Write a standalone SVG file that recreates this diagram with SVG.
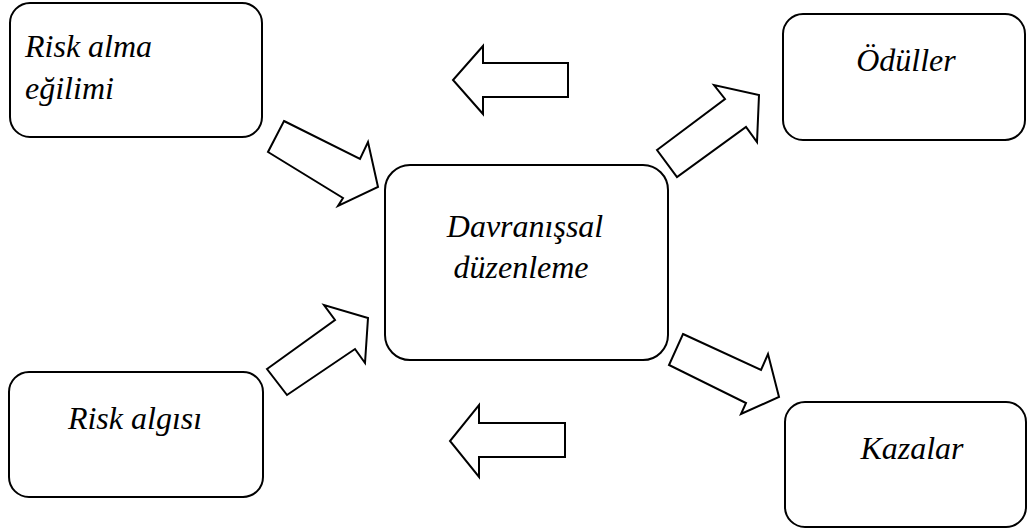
<svg xmlns="http://www.w3.org/2000/svg" width="1027" height="529" viewBox="0 0 1027 529">
<style>
.box{fill:#fff;stroke:#000;stroke-width:2}
.arr{fill:#fff;stroke:#000;stroke-width:2;stroke-linejoin:miter}
.t{font-family:"Liberation Serif","Times New Roman","DejaVu Serif",serif;font-style:italic;font-size:32px;fill:#000}
.m{text-anchor:middle}
</style>
<rect width="1027" height="529" fill="#fff"/>
<g id="connectors">
<polygon class="arr" points="568,63 483,63 483,46 453,80 483,114 483,97 568,97"/>
<polygon class="arr" points="565,423 479,423 479,405 450,441 479,477 479,457 565,457"/>
<polygon class="arr" points="284,121 360,159 368,142 378,187 338,206 343,198 268,152"/>
<polygon class="arr" points="657,150 725,99 714,85 759,95 757,142 746,127 677,177"/>
<polygon class="arr" points="267,369 335,320 324,305 368,318 365,363 355,349 287,395"/>
<polygon class="arr" points="683,334 761,370 768,354 779,397 741,414 746,403 669,365"/>
</g>
<g id="node-risk-alma">
<rect class="box" x="10" y="3" width="252" height="134" rx="20"/>
<text class="t" x="25" y="57">Risk alma</text>
<text class="t" x="25" y="99">eğilimi</text>
</g>
<g id="node-davranissal">
<rect class="box" x="385" y="165" width="283" height="195" rx="25"/>
<text class="t m" x="525" y="237">Davranışsal</text>
<text class="t m" x="521" y="278">düzenleme</text>
</g>
<g id="node-oduller">
<rect class="box" x="783" y="14" width="242" height="126" rx="20"/>
<text class="t m" x="906" y="71">Ödüller</text>
</g>
<g id="node-risk-algisi">
<rect class="box" x="9" y="372" width="254" height="125" rx="20"/>
<text class="t m" x="135" y="429">Risk algısı</text>
</g>
<g id="node-kazalar">
<rect class="box" x="785" y="402" width="241" height="125" rx="20"/>
<text class="t m" x="912" y="459">Kazalar</text>
</g>
</svg>
